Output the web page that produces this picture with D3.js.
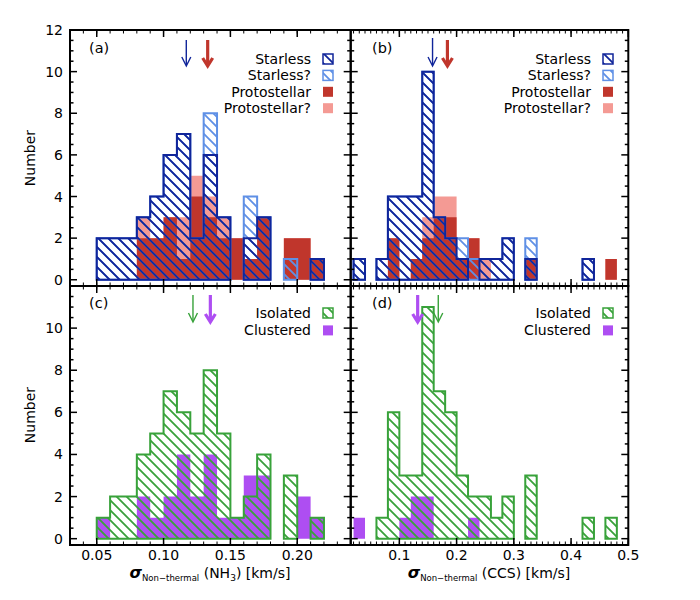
<!DOCTYPE html>
<html>
<head>
<meta charset="utf-8">
<script src="https://cdn.jsdelivr.net/npm/d3@7"></script>
<style>body{margin:0;background:#fff;}</style>
</head>
<body>
<svg id="svg" width="700" height="600"></svg>
<script>
// NH3 bins (left edges, width 0.01 km/s)
const nh3Bins=[0.05,0.06,0.07,0.08,0.09,0.10,0.11,0.12,0.13,0.14,0.15,0.16,0.17,0.18,0.19,0.20,0.21];
const nh3Starless     =[2,2,2,3,4,6,7,2,6,3,0,2,3,0,0,0,1];
const nh3StarlessQ    =[0,0,0,0,0,0,0,0,2,0,0,2,0,0,1,0,0];
const nh3Proto        =[0,0,0,2,2,3,1,4,3,2,2,1,3,0,2,2,1];
const nh3ProtoQ       =[0,0,0,1,0,0,2,1,1,1,0,0,0,0,0,0,0];
const nh3Isolated     =[1,2,2,4,5,7,6,5,8,5,1,2,4,0,3,0,1];
const nh3Clustered    =[1,0,0,2,1,2,4,2,4,1,1,3,3,0,0,2,1];

// CCS bins (left edges, width 0.02 km/s)
const ccsBins=[0.02,0.04,0.06,0.08,0.10,0.12,0.14,0.16,0.18,0.20,0.22,0.24,0.26,0.28,0.30,0.32,0.34,0.36,0.38,0.40,0.42,0.44,0.46];
const ccsStarless     =[1,0,1,4,4,4,10,3,2,1,0,1,1,2,0,1,0,0,0,0,1,0,0];
const ccsStarlessQ    =[0,0,0,0,0,0,0,0,0,1,1,0,0,0,0,1,0,0,0,0,0,0,0];
const ccsProto        =[0,0,0,2,0,1,2,3,3,1,2,0,0,0,0,1,0,0,0,0,0,0,1];
const ccsProtoQ       =[0,0,0,0,0,0,1,1,1,0,0,1,0,0,0,0,0,0,0,0,0,0,0];
const ccsIsolated     =[0,0,1,6,3,3,11,7,6,3,2,2,1,2,0,3,0,0,0,0,1,0,1];
const ccsClustered    =[1,0,0,0,1,2,2,0,0,0,1,0,0,0,0,0,0,0,0,0,0,0,0];

// median arrows
const nh3MedStarless=0.117, nh3MedProto=0.133;
const ccsMedStarless=0.158, ccsMedProto=0.184;
const nh3MedIsolated=0.122, nh3MedClustered=0.135;
const ccsMedIsolated=0.168, ccsMedClustered=0.132;

const nh3Ticks=[0.05,0.10,0.15,0.20];
const nh3TickLabels=["0.05","0.10","0.15","0.20"];
const ccsTicks=[0.1,0.2,0.3,0.4,0.5];
const ccsTickLabels=["0.1","0.2","0.3","0.4","0.5"];
const yTicks=[0,2,4,6,8,10,12];

const C={navy:"#10259a",lblue:"#5f90e6",red:"#c0362c",pink:"#f49a94",green:"#38a23a",purple:"#ae4ef2"};
const FONT="DejaVu Sans";

const X0=70, XM=350.7, X1=628.3, Y0=30, YM=286, Y1=545;
const xNH3=d3.scaleLinear().domain([0.03,0.24]).range([X0,XM]);
const xCCS=d3.scaleLinear().domain([0.015,0.5]).range([XM,X1]);
const yTop=d3.scaleLinear().domain([-0.3,12]).range([YM,Y0]);
const yBot=d3.scaleLinear().domain([-0.3,12]).range([Y1,YM]);

const svg=d3.select("#svg");
const defs=svg.append("defs");
function hatch(id,color){
    const p=defs.append("pattern").attr("id",id).attr("patternUnits","userSpaceOnUse").attr("width",10).attr("height",10);
    p.append("path").attr("d","M0,0L10,10M-1,9L1,11M9,-1L11,1").attr("stroke",color).attr("stroke-width",1.8).attr("fill","none");
}
hatch("hNavy",C.navy);hatch("hLblue",C.lblue);hatch("hGreen",C.green);

const add=(a,b)=>a.map((v,i)=>v+b[i]);

function stepPath(bins,w,counts,x,y)
{
    let d="";let i=0;
    while(i<counts.length)
    {
        if(counts[i]<=0){i++;continue;}
        d+="M"+x(bins[i])+","+y(0);
        while(i<counts.length && counts[i]>0)
        {
            d+="V"+y(counts[i])+"H"+x(bins[i]+w);
            i++;
        }
        d+="V"+y(0)+"Z";
    }
    return d;
}
function filled(bins,w,counts,x,y,color)
{
    svg.append("path").attr("d",stepPath(bins,w,counts,x,y)).attr("fill",color);
}
function hatched(bins,w,counts,x,y,pat,color)
{
    svg.append("path").attr("d",stepPath(bins,w,counts,x,y)).attr("fill","url(#"+pat+")").attr("stroke",color).attr("stroke-width",2);
}
function arrow(x,yA,yB,color,thick)
{
    const sw=thick?3.2:1.4, hw=thick?5:4.5, hl=thick?8:9;
    svg.append("path").attr("d","M"+x+","+yA+"V"+(yB-1)).attr("stroke",color).attr("stroke-width",sw).attr("fill","none");
    svg.append("path").attr("d","M"+(x-hw)+","+(yB-hl)+"L"+x+","+yB+"L"+(x+hw)+","+(yB-hl)).attr("stroke",color).attr("stroke-width",sw).attr("fill","none").attr("stroke-linejoin","miter");
}
function legend(xr,y0,step,rows)
{
    rows.forEach((r,i)=>{
        const yy=y0+i*step;
        svg.append("text").attr("x",xr).attr("y",yy+5).attr("text-anchor","end").style("font-family",FONT).style("font-size","14px").text(r.label);
        const s=svg.append("rect").attr("x",xr+12).attr("y",yy-5).attr("width",10).attr("height",10);
        if(r.pat) s.attr("fill","url(#"+r.pat+")").attr("stroke",r.color).attr("stroke-width",1.5);
        else s.attr("fill",r.color);
    });
}
function axes(x,y,left,right,top,bottom,minor,major,yLabels,xLabels,xLabelText)
{
    const g=svg.append("g").attr("stroke","#000");
    minor.forEach(v=>{
        g.append("line").attr("x1",x(v)).attr("x2",x(v)).attr("y1",bottom).attr("y2",bottom-3.5).attr("stroke-width",1);
        g.append("line").attr("x1",x(v)).attr("x2",x(v)).attr("y1",top).attr("y2",top+3.5).attr("stroke-width",1);
    });
    major.forEach(v=>{
        g.append("line").attr("x1",x(v)).attr("x2",x(v)).attr("y1",bottom).attr("y2",bottom-7).attr("stroke-width",1.5);
        g.append("line").attr("x1",x(v)).attr("x2",x(v)).attr("y1",top).attr("y2",top+7).attr("stroke-width",1.5);
    });
    d3.range(0,25).map(i=>i/2).forEach(v=>{
        const len=(v%2===0)?7:3.5;
        g.append("line").attr("x1",left).attr("x2",left+len).attr("y1",y(v)).attr("y2",y(v)).attr("stroke-width",1.5);
        g.append("line").attr("x1",right).attr("x2",right-len).attr("y1",y(v)).attr("y2",y(v)).attr("stroke-width",1.5);
    });
    svg.append("rect").attr("x",left).attr("y",top).attr("width",right-left).attr("height",bottom-top).attr("fill","none").attr("stroke","#000").attr("stroke-width",2);
    if(yLabels) yLabels.forEach(v=>{
        svg.append("text").attr("x",left-7).attr("y",y(v)+5).attr("text-anchor","end").style("font-family",FONT).style("font-size","14px").text(v);
    });
    if(xLabels) xLabels.forEach((v,i)=>{
        svg.append("text").attr("x",x(v)).attr("y",bottom+15).attr("text-anchor","middle").style("font-family",FONT).style("font-size","14px").text(xLabelText[i]);
    });
}
function panelLabel(x,y,t)
{
    svg.append("text").attr("x",x).attr("y",y).style("font-family",FONT).style("font-size","14.5px").text(t);
}

// (a)
filled(nh3Bins,0.01,add(nh3Proto,nh3ProtoQ),xNH3,yTop,C.pink);
filled(nh3Bins,0.01,nh3Proto,xNH3,yTop,C.red);
hatched(nh3Bins,0.01,add(nh3Starless,nh3StarlessQ),xNH3,yTop,"hLblue",C.lblue);
hatched(nh3Bins,0.01,nh3Starless,xNH3,yTop,"hNavy",C.navy);
arrow(xNH3(nh3MedStarless),40,66,C.navy,false);
arrow(xNH3(nh3MedProto),40,66,C.red,true);
// (b)
filled(ccsBins,0.02,add(ccsProto,ccsProtoQ),xCCS,yTop,C.pink);
filled(ccsBins,0.02,ccsProto,xCCS,yTop,C.red);
hatched(ccsBins,0.02,add(ccsStarless,ccsStarlessQ),xCCS,yTop,"hLblue",C.lblue);
hatched(ccsBins,0.02,ccsStarless,xCCS,yTop,"hNavy",C.navy);
arrow(xCCS(ccsMedStarless),38,66,C.navy,false);
arrow(xCCS(ccsMedProto),40,66,C.red,true);
// (c)
filled(nh3Bins,0.01,nh3Clustered,xNH3,yBot,C.purple);
hatched(nh3Bins,0.01,nh3Isolated,xNH3,yBot,"hGreen",C.green);
arrow(xNH3(nh3MedIsolated),295,322,C.green,false);
arrow(xNH3(nh3MedClustered),295,322,C.purple,true);
// (d)
filled(ccsBins,0.02,ccsClustered,xCCS,yBot,C.purple);
hatched(ccsBins,0.02,ccsIsolated,xCCS,yBot,"hGreen",C.green);
arrow(xCCS(ccsMedIsolated),295,322,C.green,false);
arrow(xCCS(ccsMedClustered),295,322,C.purple,true);

const nh3Minor=d3.range(3,25).map(i=>i/100);
const ccsMinor=d3.range(2,51).map(i=>i/100);
axes(xNH3,yTop,X0,XM,Y0,YM,nh3Minor,nh3Ticks,yTicks,null);
axes(xCCS,yTop,XM,X1,Y0,YM,ccsMinor,ccsTicks,null,null);
axes(xNH3,yBot,X0,XM,YM,Y1,nh3Minor,nh3Ticks,yTicks.slice(0,6),nh3Ticks,nh3TickLabels);
axes(xCCS,yBot,XM,X1,YM,Y1,ccsMinor,ccsTicks,null,ccsTicks,ccsTickLabels);

panelLabel(89,53,"(a)");panelLabel(372,53,"(b)");panelLabel(89,308,"(c)");panelLabel(372,308,"(d)");

const starRows=[{label:"Starless",pat:"hNavy",color:C.navy},{label:"Starless?",pat:"hLblue",color:C.lblue},{label:"Protostellar",color:C.red},{label:"Protostellar?",color:C.pink}];
const envRows=[{label:"Isolated",pat:"hGreen",color:C.green},{label:"Clustered",color:C.purple}];
legend(311,59,16.4,starRows);
legend(591,59,16.4,starRows);
legend(311,313,17.4,envRows);
legend(591,313,17.4,envRows);

// y titles
[158,415].forEach(cy=>{
    svg.append("text").attr("transform","translate(35,"+cy+") rotate(-90)").attr("text-anchor","middle").style("font-family",FONT).style("font-size","14px").text("Number");
});
// x titles
function xTitle(cx,mol)
{
    const t=svg.append("text").attr("x",cx).attr("y",578).attr("text-anchor","middle").style("font-family",FONT).style("font-size","14px");
    t.append("tspan").style("font-style","italic").style("font-weight","bold").style("font-size","16px").text("σ");
    t.append("tspan").style("font-size","8.5px").attr("dy",3).text("Non\u2212thermal");
    if(mol==="NH3")
    {
        t.append("tspan").attr("dy",-3).text(" (NH");
        t.append("tspan").style("font-size","9px").attr("dy",3).text("3");
        t.append("tspan").attr("dy",-3).text(") [km/s]");
    }
    else t.append("tspan").attr("dy",-3).text(" (CCS) [km/s]");
}
xTitle(210,"NH3");
xTitle(489,"CCS");
</script>
</body>
</html>
